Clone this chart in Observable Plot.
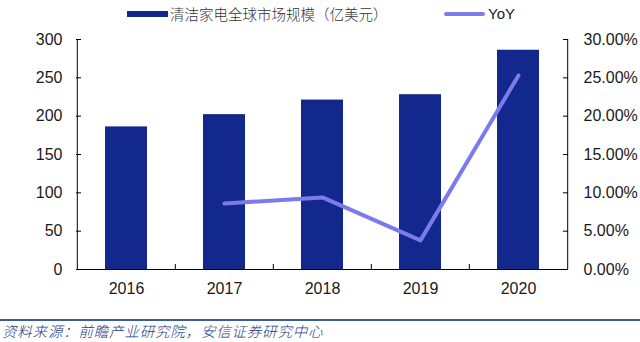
<!DOCTYPE html>
<html>
<head>
<meta charset="utf-8">
<script src="https://cdn.jsdelivr.net/npm/d3@7"></script>
<script src="https://cdn.jsdelivr.net/npm/@observablehq/plot@0.6"></script>
<style>
  html, body { margin: 0; padding: 0; background: #fff; width: 640px; height: 342px; overflow: hidden; }
  #legend { position: relative; height: 28px; font-family: "Noto Sans CJK SC", "Liberation Sans", sans-serif; font-size: 14.5px; font-weight: 300; color: #333; }
  .sw-bar { position: absolute; left: 127px; top: 11px; width: 41px; height: 6px; background: #13288c; }
  .lb-bar { position: absolute; left: 170px; top: 4px; line-height: 20px; white-space: nowrap; }
  .sw-line { position: absolute; left: 444px; top: 12px; width: 41px; height: 4px; border-radius: 2px; background: #7b7bef; }
  .lb-line { position: absolute; left: 488px; top: 4px; line-height: 20px; font-family: "Liberation Sans", Arial, sans-serif; font-size: 15px; font-weight: 400; color: #222; }
  #chart svg { display: block; }
  #caption { margin-top: 15px; border-top: 2px solid #3b5b9d; font-family: "Noto Sans CJK SC", sans-serif; font-style: italic; font-weight: 300; font-size: 14.5px; line-height: 20px; color: #1d3a86; padding-left: 2px; white-space: nowrap; letter-spacing: 0.8px; }
</style>
</head>
<body>
<div id="legend">
  <div class="sw-bar"></div><div class="lb-bar">清洁家电全球市场规模（亿美元）</div>
  <div class="sw-line"></div><div class="lb-line">YoY</div>
</div>
<div id="chart"></div>
<div id="caption">资料来源：前瞻产业研究院，安信证券研究中心</div>
<script>
const years = ["2016", "2017", "2018", "2019", "2020"];
const marketSize = [186, 202, 221, 228, 286];
const yoyYears = ["2017", "2018", "2019", "2020"];
const yoyPct = [8.6, 9.4, 3.8, 25.3];
const leftTicks = [0, 50, 100, 150, 200, 250, 300];
const rightTicksPct = [0, 5, 10, 15, 20, 25, 30];

const bars = years.map((y, i) => ({year: y, value: marketSize[i]}));
const yoy = yoyYears.map((y, i) => ({year: y, pct: yoyPct[i]}));
const pctToLeft = 300 / 30;

const W = 640, H = 276, mL = 76, mR = 72, mT = 11, mB = 35;
const plotW = W - mL - mR, plotH = H - mT - mB;
const step = plotW / years.length;

const chart = Plot.plot({
  width: W, height: H,
  marginLeft: mL, marginRight: mR, marginTop: mT, marginBottom: mB,
  style: {fontFamily: "'Liberation Sans', Arial, sans-serif", fontSize: "16px", color: "#1a1a1a", background: "transparent"},
  x: {domain: years, paddingInner: 0.575, paddingOuter: 0.2875, align: 0.5, label: null},
  y: {domain: [0, 300], label: null},
  marks: [
    Plot.barY(bars, {x: "year", y: "value", fill: "#13288c"}),
    Plot.line(yoy, {x: "year", y: d => d.pct * pctToLeft, stroke: "#7b7bef", strokeWidth: 4, strokeLinecap: "round", strokeLinejoin: "round"}),
    Plot.ruleY([0], {stroke: "#000", strokeWidth: 1}),
    Plot.ruleX([years[0]], {dx: -step / 2, stroke: "#000"}),
    Plot.ruleX([years[years.length - 1]], {dx: step / 2, stroke: "#000"}),
    Plot.ruleY(leftTicks, {y: d => d, insetRight: plotW - 5, stroke: "#000"}),
    Plot.ruleY(rightTicksPct, {y: d => d * pctToLeft, insetLeft: plotW - 5, stroke: "#000"}),
    Plot.ruleX(years.slice(1), {x: d => d, dx: -step / 2, insetTop: plotH - 5, stroke: "#000"}),
    Plot.axisY({ticks: leftTicks, tickSize: 0, tickPadding: 14, label: null}),
    Plot.axisY({anchor: "right", ticks: rightTicksPct.map(t => t * pctToLeft), tickFormat: d => (d / pctToLeft).toFixed(2) + "%", tickSize: 0, tickPadding: 15, label: null}),
    Plot.axisX({tickSize: 0, tickPadding: 13, label: null})
  ]
});
document.getElementById("chart").appendChild(chart);
</script>
</body>
</html>
